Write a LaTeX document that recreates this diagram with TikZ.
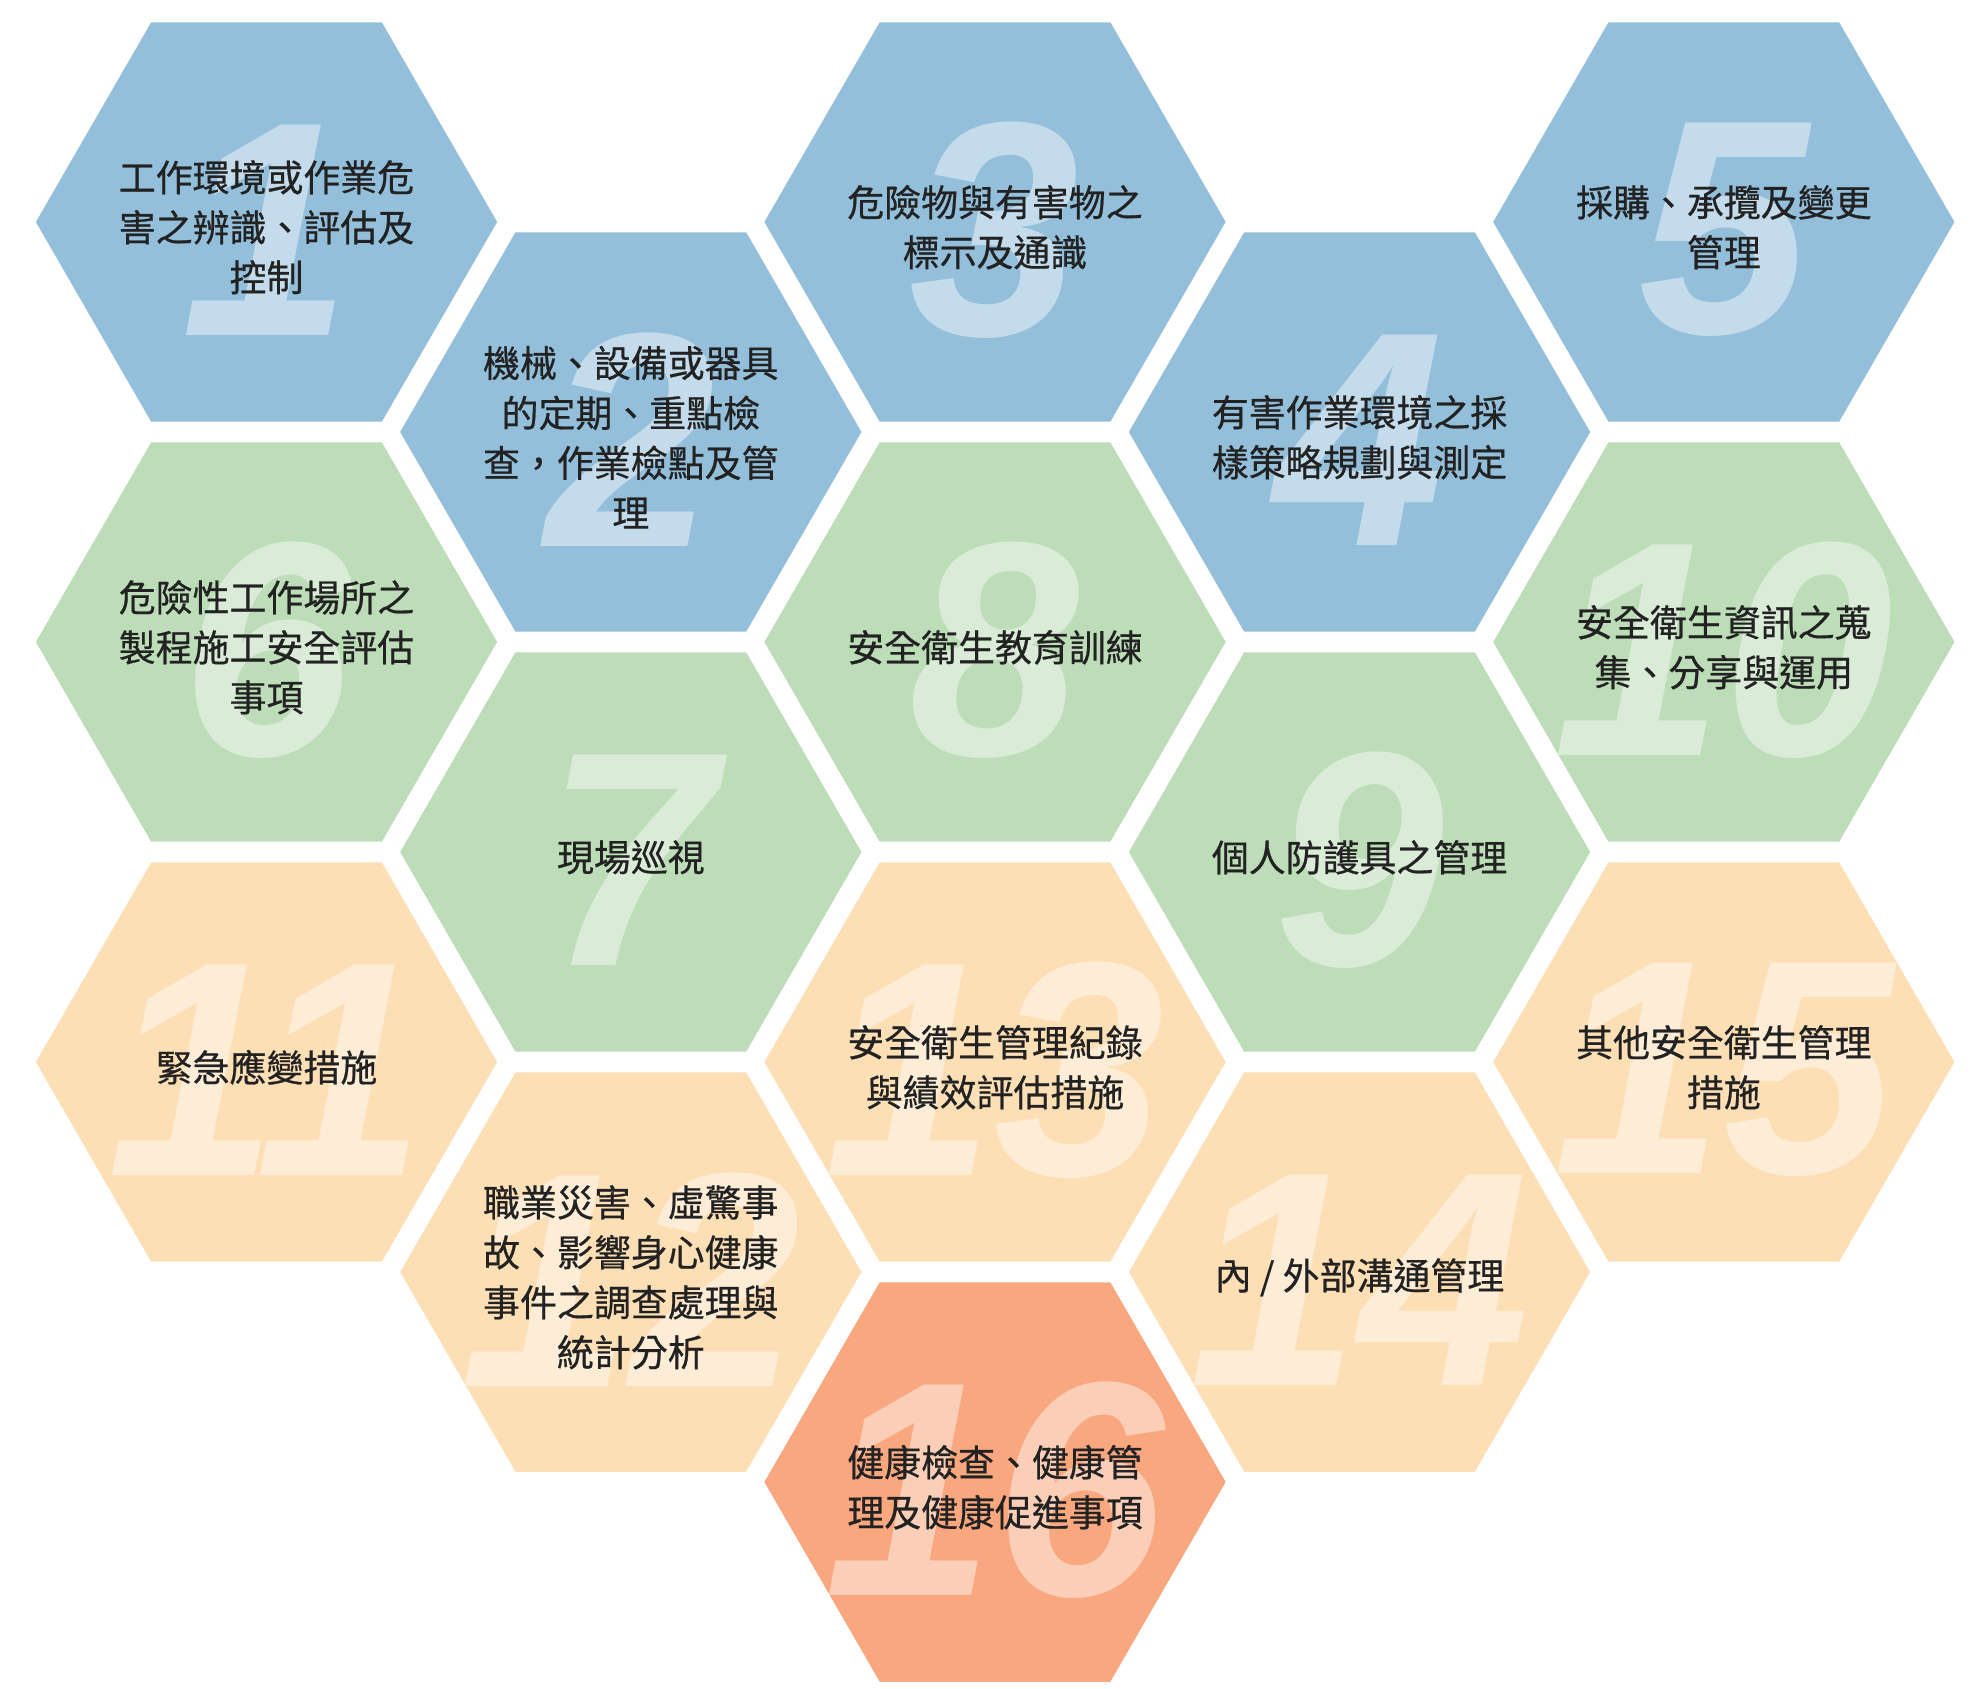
\documentclass[tikz,border=0pt]{standalone}
\usepackage{fontspec}
\setmainfont{Noto Sans CJK TC}
\newfontfamily\textofont{Noto Sans CJK TC}[FakeBold=0.6]
\newfontfamily\numfont{Liberation Sans}
\usetikzlibrary{shapes.geometric}
\definecolor{azul}{HTML}{93BFDA}
\definecolor{verde}{HTML}{BCDDB8}
\definecolor{durazno}{HTML}{FDDFB6}
\definecolor{naranja}{HTML}{F8A77F}
\definecolor{tinta}{HTML}{222222}
\tikzset{
  hexa/.style={regular polygon, regular polygon sides=6, minimum size=4.61cm, inner sep=0pt},
  numero/.style={text=white, text opacity=0.45, inner sep=0pt, yshift=-2.3pt,
    font=\numfont\bfseries\itshape\fontsize{87}{87}\selectfont},
  texto/.style={text=tinta, align=center, inner sep=0pt, yshift=-1.5pt,
    font=\textofont\fontsize{10.5}{14.2}\selectfont}
}
\begin{document}
\begin{tikzpicture}[x=0.01cm,y=-0.01cm]
        \fill[white] (0,0) rectangle (1980,1689); % fondo
        \useasboundingbox (0,0) rectangle (1980,1689);
        % columna 1
        \node[hexa,fill=azul] (h1) at (266.5,222) {};
        \node[numero] (n1) at (h1) {1};
        \node[texto] (t1) at (h1) {工作環境或作業危\\害之辨識、評估及\\控制};
        \node[hexa,fill=verde] (h6) at (266.5,642) {};
        \node[numero] (n6) at (h6) {6};
        \node[texto] (t6) at (h6) {危險性工作場所之\\製程施工安全評估\\事項};
        \node[hexa,fill=durazno] (h11) at (266.5,1062) {};
        \node[numero] (n11) at (h11) {11};
        \node[texto] (t11) at (h11) {緊急應變措施};
        % columna 2
        \node[hexa,fill=azul] (h2) at (630.8,432) {};
        \node[numero] (n2) at (h2) {2};
        \node[texto] (t2) at (h2) {機械、設備或器具\\的定期、重點檢\\查，作業檢點及管\\理};
        \node[hexa,fill=verde] (h7) at (630.8,852) {};
        \node[numero] (n7) at (h7) {7};
        \node[texto] (t7) at (h7) {現場巡視};
        \node[hexa,fill=durazno] (h12) at (630.8,1272) {};
        \node[numero] (n12) at (h12) {12};
        \node[texto] (t12) at (h12) {職業災害、虛驚事\\故、影響身心健康\\事件之調查處理與\\統計分析};
        % columna 3
        \node[hexa,fill=azul] (h3) at (995,222) {};
        \node[numero] (n3) at (h3) {3};
        \node[texto] (t3) at (h3) {危險物與有害物之\\標示及通識};
        \node[hexa,fill=verde] (h8) at (995,642) {};
        \node[numero] (n8) at (h8) {8};
        \node[texto] (t8) at (h8) {安全衛生教育訓練};
        \node[hexa,fill=durazno] (h13) at (995,1062) {};
        \node[numero] (n13) at (h13) {13};
        \node[texto] (t13) at (h13) {安全衛生管理紀錄\\與績效評估措施};
        \node[hexa,fill=naranja] (h16) at (995,1482) {};
        \node[numero] (n16) at (h16) {16};
        \node[texto] (t16) at (h16) {健康檢查、健康管\\理及健康促進事項};
        % columna 4
        \node[hexa,fill=azul] (h4) at (1359.5,432) {};
        \node[numero] (n4) at (h4) {4};
        \node[texto] (t4) at (h4) {有害作業環境之採\\樣策略規劃與測定};
        \node[hexa,fill=verde] (h9) at (1359.5,852) {};
        \node[numero] (n9) at (h9) {9};
        \node[texto] (t9) at (h9) {個人防護具之管理};
        \node[hexa,fill=durazno] (h14) at (1359.5,1272) {};
        \node[numero] (n14) at (h14) {14};
        \node[texto] (t14) at (h14) {內 / 外部溝通管理};
        % columna 5
        \node[hexa,fill=azul] (h5) at (1723.8,222) {};
        \node[numero] (n5) at (h5) {5};
        \node[texto] (t5) at (h5) {採購、承攬及變更\\管理};
        \node[hexa,fill=verde] (h10) at (1723.8,642) {};
        \node[numero] (n10) at (h10) {10};
        \node[texto] (t10) at (h10) {安全衛生資訊之蒐\\集、分享與運用};
        \node[hexa,fill=durazno] (h15) at (1723.8,1062) {};
        \node[numero] (n15) at (h15) {15};
        \node[texto] (t15) at (h15) {其他安全衛生管理\\措施};
\end{tikzpicture}
\end{document}
